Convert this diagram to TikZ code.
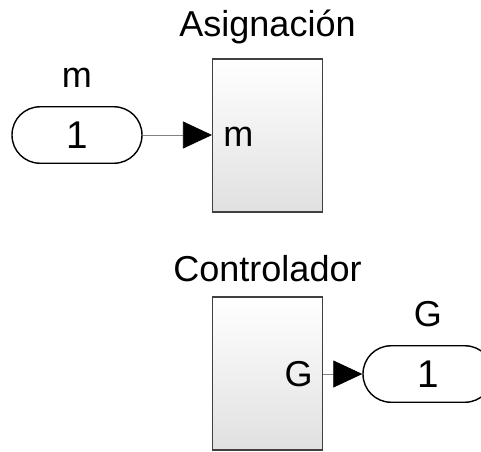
\documentclass[tikz,border=0pt]{standalone}
\usepackage{fontspec}
\setmainfont{Liberation Sans}
\usetikzlibrary{positioning, arrows.meta}

\tikzset{
  subsys/.style={draw=black!75, line width=0.6pt, top color=white, bottom color=black!12,
    minimum width=2.2cm, minimum height=3.06cm, inner sep=0pt},
  port/.style={draw, line width=0.8pt, rounded corners=0.56cm,
    minimum width=2.6cm, minimum height=1.13cm, inner sep=0pt, font=\fontsize{22}{26}\selectfont},
  lbl/.style={font=\fontsize{20.5}{24}\selectfont, inner sep=0pt},
  signal/.style={draw=black!50, line width=0.4pt,
    -{Triangle[length=0.58cm,width=0.54cm,color=black]}}
}

\begin{document}
\begin{tikzpicture}[x=0.02cm, y=-0.02cm]
\useasboundingbox (0,0) rectangle (481,451);

% Bloque de asignacion
\node[subsys] (asig) at (267.5,135.5) {};
\node[lbl, above=0.28cm of asig] (asigname) {Asignación};
\node[lbl, anchor=west] (asigin) at (223,137) {m};

% Entrada m
\node[port] (inm) at (77,135) {1};
\node[lbl, above=0.36cm of inm] (inmname) {m};

\draw[signal] (inm.east) -- (asig.west |- inm.east);

% Bloque controlador
\node[subsys] (ctrl) at (267.5,373.5) {};
\node[lbl, above=0.28cm of ctrl] (ctrlname) {Controlador};
\node[lbl, anchor=east] (ctrlout) at (313,374) {G};

% Salida G
\node[port] (outg) at (428,374) {1};
\node[lbl, above=0.36cm of outg] (outgname) {G};

\draw[signal] (ctrl.east |- outg.west) -- (outg.west);

\end{tikzpicture}
\end{document}
